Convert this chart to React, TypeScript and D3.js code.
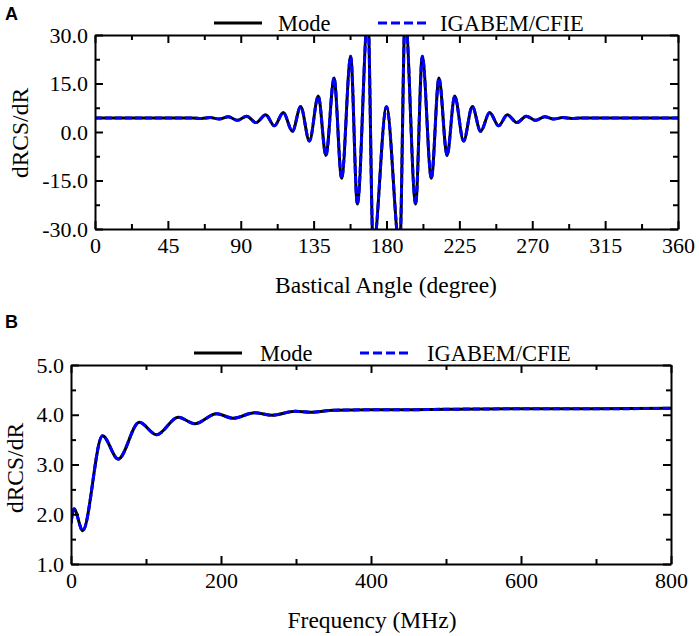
import * as d3 from "d3";
import { useEffect, useRef } from "react";

// panel A: bistatic angle sweep (extrema)
const angleA = [
  0, 30, 50, 60, 65.7, 71.2, 76.8, 82.3, 87.9, 93.7, 99.4, 105.4, 110.8, 116.3,
  121.9, 127, 132.4, 137.9, 142.6, 147.6, 152.3, 157.9, 162, 168.5, 171.8, 180,
  188.2, 191.5, 198, 202.1, 207.7, 212.4, 217.4, 222.1, 227.6, 233, 238.1,
  243.7, 249.2, 254.6, 260.6, 266.3, 272.1, 277.7, 283.2, 288.8, 294.3, 300,
  310, 330, 360,
];
const valueA = [
  4.3, 4.3, 4.3, 4.35, 4.2, 4.45, 4.0, 4.7, 3.6, 4.9, 2.9, 5.3, 1.9, 6.0, 0.2,
  7.9, -2.8, 11.1, -7.3, 16.7, -14.3, 23.4, -22.3, 36, -36, 7.8, -36, 36,
  -22.3, 23.4, -14.3, 16.7, -7.3, 11.1, -2.8, 7.9, 0.2, 6.0, 1.9, 5.3, 2.9,
  4.9, 3.6, 4.7, 4.0, 4.45, 4.2, 4.35, 4.3, 4.3, 4.3,
];

// panel B: frequency sweep
const freqB = [
  0, 4, 15.6, 42, 63, 91, 114, 143, 165, 194, 216, 245, 268, 299, 319, 350,
  400, 440, 500, 600, 700, 800,
];
const valueB = [
  1.82, 2.11, 1.67, 3.58, 3.11, 3.85, 3.6, 3.95, 3.82, 4.02, 3.93, 4.04, 3.99,
  4.07, 4.05, 4.09, 4.1, 4.1, 4.11, 4.12, 4.12, 4.13,
];

const ticksAx = [0, 45, 90, 135, 180, 225, 270, 315, 360];
const ticksAy = [-30, -15, 0, 15, 30];
const ticksBx = [0, 200, 400, 600, 800];
const ticksBy = [1, 2, 3, 4, 5];
const seriesNames = ["Mode", "IGABEM/CFIE"];

const SERIF = "'Liberation Serif', 'Times New Roman', serif";

// plain hyphen for negatives, one decimal
const fmt1 = (d: number) => d.toFixed(1);

export default function App() {
  const svgRef = useRef<SVGSVGElement>(null);

  useEffect(() => {
    const svg = d3.select(svgRef.current);
    svg.selectAll("*").remove();

    const drawPanel = (opt: {
      id: string;
      letter: string;
      letterY: number;
      box: { l: number; r: number; t: number; b: number };
      xDom: [number, number];
      yDom: [number, number];
      xTicks: number[];
      yTicks: number[];
      xMinor: number[];
      yMinor: number[];
      xs: number[];
      ys: number[];
      xTitle: string;
      xTitleX: number;
      yTitleX: number;
      yTitleY: number;
      legend: { y: number; l1: [number, number]; t1: number; l2: [number, number]; t2: number };
    }) => {
      const { box } = opt;
      const x = d3.scaleLinear().domain(opt.xDom).range([box.l, box.r]);
      const y = d3.scaleLinear().domain(opt.yDom).range([box.b, box.t]);
      const g = svg.append("g");

      g.append("clipPath")
        .attr("id", "clip" + opt.id)
        .append("rect")
        .attr("x", box.l)
        .attr("y", box.t)
        .attr("width", box.r - box.l)
        .attr("height", box.b - box.t);

      const pts: [number, number][] = opt.xs.map((d, i) => [d, opt.ys[i]]);
      const line = d3
        .line<[number, number]>()
        .x((d) => x(d[0]))
        .y((d) => y(d[1]))
        .curve(d3.curveMonotoneX);

      const curves = g.append("g").attr("clip-path", `url(#clip${opt.id})`);
      curves
        .append("path")
        .attr("d", line(pts))
        .attr("fill", "none")
        .attr("stroke", "#000")
        .attr("stroke-width", 3);
      curves
        .append("path")
        .attr("d", line(pts))
        .attr("fill", "none")
        .attr("stroke", "#0000ff")
        .attr("stroke-width", 3)
        .attr("stroke-dasharray", "7,3");

      const style = (sel: any) => {
        sel.attr("font-family", null).attr("font-size", null);
        sel.select(".domain").attr("stroke-width", 2);
        sel.selectAll(".tick line").attr("stroke-width", 2);
        sel
          .selectAll(".tick text")
          .style("font-family", SERIF)
          .style("font-size", "22px")
          .attr("fill", "#000");
      };

      // major axes (ticks point inward)
      g.append("g")
        .attr("transform", `translate(0,${box.b})`)
        .call(d3.axisBottom(x).tickValues(opt.xTicks).tickSize(-8).tickSizeOuter(0).tickPadding(8.5).tickFormat((d: any) => String(d)) as any)
        .call(style);
      g.append("g")
        .attr("transform", `translate(0,${box.t})`)
        .call(d3.axisTop(x).tickValues(opt.xTicks).tickSize(-8).tickSizeOuter(0).tickFormat(() => "") as any)
        .call(style);
      g.append("g")
        .attr("transform", `translate(${box.l},0)`)
        .call(d3.axisLeft(y).tickValues(opt.yTicks).tickSize(-8).tickSizeOuter(0).tickPadding(7).tickFormat(fmt1 as any) as any)
        .call(style);
      g.append("g")
        .attr("transform", `translate(${box.r},0)`)
        .call(d3.axisRight(y).tickValues(opt.yTicks).tickSize(-8).tickSizeOuter(0).tickFormat(() => "") as any)
        .call(style);

      // minor ticks
      const minor = [
        [d3.axisBottom(x).tickValues(opt.xMinor), `translate(0,${box.b})`],
        [d3.axisTop(x).tickValues(opt.xMinor), `translate(0,${box.t})`],
        [d3.axisLeft(y).tickValues(opt.yMinor), `translate(${box.l},0)`],
        [d3.axisRight(y).tickValues(opt.yMinor), `translate(${box.r},0)`],
      ] as const;
      minor.forEach(([ax, tr]) => {
        const a = g
          .append("g")
          .attr("transform", tr)
          .call((ax as any).tickSize(-5).tickSizeOuter(0).tickFormat(() => ""));
        a.select(".domain").remove();
        a.selectAll(".tick line").attr("stroke-width", 2);
      });

      // titles
      g.append("text")
        .attr("x", opt.xTitleX)
        .attr("y", box.b + 64)
        .attr("text-anchor", "middle")
        .style("font-family", SERIF)
        .style("font-size", "23.5px")
        .text(opt.xTitle);
      g.append("text")
        .attr("transform", `translate(${opt.yTitleX},${opt.yTitleY}) rotate(-90)`)
        .attr("text-anchor", "middle")
        .style("font-family", SERIF)
        .style("font-size", "23.5px")
        .text("dRCS/dR");

      g.append("text")
        .attr("x", 5)
        .attr("y", opt.letterY)
        .style("font-family", "'Liberation Sans', Arial, sans-serif")
        .style("font-weight", "bold")
        .style("font-size", "18px")
        .text(opt.letter);

      // legend
      const lg = opt.legend;
      g.append("line")
        .attr("x1", lg.l1[0]).attr("x2", lg.l1[1])
        .attr("y1", lg.y).attr("y2", lg.y)
        .attr("stroke", "#000").attr("stroke-width", 3);
      g.append("line")
        .attr("x1", lg.l2[0]).attr("x2", lg.l2[1])
        .attr("y1", lg.y).attr("y2", lg.y)
        .attr("stroke", "#0000ff").attr("stroke-width", 3)
        .attr("stroke-dasharray", "9,4");
      g.append("text")
        .attr("x", lg.t1).attr("y", lg.y + 8)
        .style("font-family", SERIF).style("font-size", "22.5px")
        .text(seriesNames[0]);
      g.append("text")
        .attr("x", lg.t2).attr("y", lg.y + 8)
        .style("font-family", SERIF).style("font-size", "22.5px")
        .text(seriesNames[1]);
    };

    drawPanel({
      id: "A",
      letter: "A",
      letterY: 20,
      box: { l: 95, r: 678, t: 35, b: 229 },
      xDom: [0, 360],
      yDom: [-30, 30],
      xTicks: ticksAx,
      yTicks: ticksAy,
      xMinor: ticksAx.slice(1).map((d) => d - 22.5),
      yMinor: ticksAy.slice(1).map((d) => d - 7.5),
      xs: angleA,
      ys: valueA,
      xTitle: "Bastical Angle (degree)",
      xTitleX: 386,
      yTitleX: 28,
      yTitleY: 133,
      legend: { y: 23, l1: [214, 262], t1: 278, l2: [378, 428], t2: 440 },
    });

    drawPanel({
      id: "B",
      letter: "B",
      letterY: 328,
      box: { l: 71, r: 671, t: 365, b: 564 },
      xDom: [0, 800],
      yDom: [1, 5],
      xTicks: ticksBx,
      yTicks: ticksBy,
      xMinor: ticksBx.slice(1).map((d) => d - 100),
      yMinor: ticksBy.slice(1).map((d) => d - 0.5),
      xs: freqB,
      ys: valueB,
      xTitle: "Frequency (MHz)",
      xTitleX: 372,
      yTitleX: 23,
      yTitleY: 468,
      legend: { y: 353, l1: [194, 242], t1: 260, l2: [360, 408], t2: 427 },
    });
  }, []);

  return (
    <svg
      ref={svgRef}
      width={699}
      height={636}
      style={{ position: "absolute", left: 0, top: 0, background: "#fff" }}
    />
  );
}
